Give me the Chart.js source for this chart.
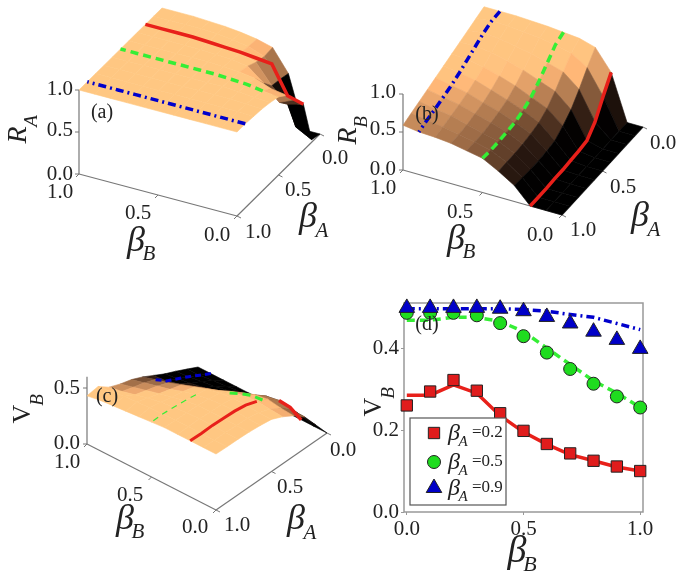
<!DOCTYPE html>
<html>
<head>
<meta charset="utf-8">
<script src="https://cdn.jsdelivr.net/npm/chart.js@4/dist/chart.umd.js"></script>
<style>
html, body { margin: 0; padding: 0; background: #fff; overflow: hidden; }
canvas { position: absolute; filter: blur(0.65px); }
#surfaces { left: 0; top: 0; }
#lines { left: 360px; top: 285px; }
</style>
</head>
<body>
<canvas id="surfaces" width="685" height="580"></canvas>
<canvas id="lines" width="325" height="295"></canvas>
<script>
// Surface heights, one row per beta_A (0.0 to 1.0), one column per beta_B (0.0 to 1.0)
const surfaceRA = [
    [0, 0, .62, .88, .93, .96, .98, .99, 1, 1, 1],
    [.03, .13, .65, .87, .94, .97, .99, 1, 1, 1, 1],
    [.55, .5, .67, .9, .96, .98, .99, 1, 1, 1, 1],
    [.7, .62, .8, .95, .98, .99, 1, 1, 1, 1, 1],
    [.85, .88, .95, .98, .99, 1, 1, 1, 1, 1, 1],
    [.93, .95, .98, .99, 1, 1, 1, 1, 1, 1, 1],
    [.96, .97, .99, 1, 1, 1, 1, 1, 1, 1, 1],
    [.98, .99, 1, 1, 1, 1, 1, 1, 1, 1, 1],
    [.99, 1, 1, 1, 1, 1, 1, 1, 1, 1, 1],
    [1, 1, 1, 1, 1, 1, 1, 1, 1, 1, 1],
    [1, 1, 1, 1, 1, 1, 1, 1, 1, 1, 1]
];
const redCurveRA = [.55, .6, .93, .95, .97, .98, .99, 1, 1, 1, 1];
const surfaceRB = [
    [0, 0, .6, .87, .93, .95, .97, .98, .99, .99, .99],
    [0, 0, .4, .72, .85, .9, .93, .95, .97, .98, .95],
    [0, 0, .18, .55, .72, .78, .84, .88, .92, .94, .91],
    [0, 0, .05, .4, .58, .66, .74, .8, .85, .88, .87],
    [0, 0, .03, .3, .47, .56, .65, .72, .78, .82, .83],
    [0, 0, .02, .22, .4, .5, .58, .65, .72, .76, .79],
    [0, 0, .01, .2, .37, .46, .54, .6, .67, .71, .75],
    [0, 0, .01, .19, .35, .45, .51, .57, .63, .67, .71],
    [0, 0, 0, .19, .34, .44, .49, .54, .6, .63, .67],
    [0, 0, 0, .2, .34, .44, .49, .53, .57, .6, .63],
    [0, 0, 0, .21, .34, .45, .49, .53, .55, .56, .59]
];
const surfaceVB = [
    [0, 0, 0, 0, 0, 0, 0, 0, 0, 0, 0],
    [.14, .15, .18, .17, .14, .11, .09, .075, .065, .055, .05],
    [.28, .285, .31, .29, .235, .195, .165, .14, .125, .11, .1],
    [.36, .37, .39, .37, .33, .27, .23, .2, .18, .16, .145],
    [.42, .43, .44, .43, .41, .36, .32, .28, .24, .21, .2],
    [.465, .465, .475, .475, .465, .44, .4, .36, .32, .29, .255],
    [.48, .485, .49, .49, .48, .46, .43, .39, .36, .33, .3],
    [.49, .49, .495, .495, .49, .475, .45, .42, .39, .36, .33],
    [.495, .495, .5, .5, .495, .485, .47, .45, .42, .39, .37],
    [.496, .496, .497, .497, .496, .494, .49, .482, .475, .46, .445],
    [.5, .5, .5, .5, .5, .49, .48, .47, .46, .45, .43]
];

// Panel (d)
const betaB = [0, .1, .2, .3, .4, .5, .6, .7, .8, .9, 1];
const squaresA2 = [.26, .294, .322, .296, .241, .198, .166, .143, .125, .111, .1];
const circlesA5 = [.486, .486, .486, .48, .461, .429, .389, .349, .313, .282, .255];
const trianglesA9 = [.498, .498, .498, .498, .496, .49, .476, .46, .44, .42, .398];
const lineA2 = [.285, .285, .31, .29, .235, .195, .165, .14, .125, .11, .1];
const lineA5 = [.468, .468, .475, .475, .465, .44, .4, .36, .32, .29, .255];
const lineA9 = [.496, .496, .496, .496, .496, .494, .49, .482, .475, .46, .445];
const xTicksD = [0, .5, 1];
const yTicksD = [0, .2, .4];
const legendLabels = ['=0.2', '=0.5', '=0.9'];

const RED = '#e8201a', GREEN = '#35ee35', BLUE = '#0000cc';
const DASHED = [8, 5], DASHDOT = [8, 4, 2, 4];
const SERIF = '"Liberation Serif"';

// Where each 3D box lands on the page
const panels = [
    {
        grid: surfaceRA, zMax: 1, zTicks: [0, .5, 1], lo: .45, hi: .95, rise: 0,
        front: [237, 216], left: [79, 174], right: [320, 134], zPx: 84,
        lines: [
            { along: 'B', index: 2, color: RED, width: 3.5, dash: [], values: redCurveRA },
            { along: 'B', index: 5, color: GREEN, width: 3.5, dash: DASHED, from: 1 },
            { along: 'B', index: 9, color: BLUE, width: 3.5, dash: DASHDOT }
        ]
    },
    {
        grid: surfaceRB, zMax: 1, zTicks: [0, .5, 1], lo: .2, hi: .74, rise: .08,
        front: [562, 215], left: [403, 170], right: [643, 127], zPx: 76,
        lines: [
            { along: 'A', index: 2, color: RED, width: 3.5, dash: [] },
            { along: 'A', index: 5, color: GREEN, width: 3.5, dash: DASHED },
            { along: 'A', index: 9, color: BLUE, width: 3.5, dash: DASHDOT }
        ]
    },
    {
        grid: surfaceVB, zMax: .6, zTicks: [0, .5], lo: .2, hi: .42, rise: 0,
        front: [216, 510], left: [87, 444], right: [327, 433], zPx: 112,
        lines: [
            { along: 'A', index: 2, color: RED, width: 3, dash: [], from: 4, to: 10 },
            { along: 'A', index: 2, color: RED, width: 3.5, dash: [], from: 0, to: 2 },
            { along: 'A', index: 5, color: GREEN, width: 1.2, dash: [6, 5], from: 6, to: 10 },
            { along: 'A', index: 5, color: GREEN, width: 3, dash: DASHED, from: 0, to: 3 },
            { along: 'A', index: 9, color: BLUE, width: 3, dash: [6, 4], from: 0, to: 5 }
        ]
    }
];

// beta_A = 1, beta_B = 0 is the corner nearest the viewer
function project(p, a, b, z) {
    const s = 1 - a, t = b;
    return {
        x: p.front[0] + s * (p.right[0] - p.front[0]) + t * (p.left[0] - p.front[0]),
        y: p.front[1] + s * (p.right[1] - p.front[1]) + t * (p.left[1] - p.front[1]) - z * p.zPx
    };
}

function copper(t) {
    t = Math.max(0, Math.min(1, t));
    const r = Math.min(255, Math.round(255 * 1.08 * t));
    return `rgb(${r},${Math.round(199 * Math.pow(t, 1.1))},${Math.round(130 * Math.pow(t, 1.1))})`;
}

function segment(points, color, width, dash) {
    return {
        data: points, showLine: true, borderColor: color, borderWidth: width,
        borderDash: dash || [], pointRadius: 0, fill: false, tension: 0, clip: false
    };
}

function panelDatasets(p) {
    const out = [];
    const axisColor = '#777';
    // box edges and tick marks
    out.push(segment([project(p, 1, 1, 0), project(p, 1, 1, p.zMax)], axisColor, 1.2));
    out.push(segment([project(p, 1, 1, 0), project(p, 1, 0, 0)], axisColor, 1.2));
    out.push(segment([project(p, 1, 0, 0), project(p, 0, 0, 0)], axisColor, 1.2));
    [0, .5, 1].forEach(v => {
        const m = project(p, 1, v, 0);
        out.push(segment([m, { x: m.x - 3, y: m.y + 3 }], axisColor, 1));
        const n = project(p, v, 0, 0);
        out.push(segment([n, { x: n.x + 4, y: n.y + 2 }], axisColor, 1));
    });
    p.zTicks.forEach(v => {
        const m = project(p, 1, 1, v);
        out.push(segment([m, { x: m.x - 4, y: m.y }], axisColor, 1));
    });
    // surface cells, back to front
    for (let i = 0; i < 10; i++) {
        for (let j = 9; j >= 0; j--) {
            const g = p.grid;
            const avg = (g[i][j] + g[i + 1][j] + g[i][j + 1] + g[i + 1][j + 1]) / 4;
            const base = Math.max(0, Math.min(1, (avg - p.lo) / (p.hi - p.lo)));
            const color = copper(base * (1 - p.rise) + p.rise * avg);
            const corners = [
                project(p, i / 10, j / 10, g[i][j]),
                project(p, (i + 1) / 10, j / 10, g[i + 1][j]),
                project(p, (i + 1) / 10, (j + 1) / 10, g[i + 1][j + 1]),
                project(p, i / 10, (j + 1) / 10, g[i][j + 1])
            ];
            corners.push(corners[0]);
            out.push({
                data: corners, showLine: true, borderColor: color, borderWidth: .6,
                backgroundColor: color, fill: 'shape', pointRadius: 0, tension: 0, clip: false
            });
        }
    }
    // constant beta curves on top of the surface
    p.lines.forEach(l => {
        const pts = [];
        for (let k = l.from || 0; k <= (l.to === undefined ? 10 : l.to); k++) {
            const z = l.values ? l.values[k] : (l.along === 'B' ? p.grid[l.index][k] : p.grid[k][l.index]);
            pts.push(l.along === 'B' ? project(p, l.index / 10, k / 10, z) : project(p, k / 10, l.index / 10, z));
        }
        const ds = segment(pts, l.color, l.width, l.dash);
        ds.borderCapStyle = 'butt';
        out.push(ds);
    });
    return out;
}

function text(ctx, str, x, y, font, align, color) {
    ctx.font = font;
    ctx.textAlign = align || 'center';
    ctx.textBaseline = 'middle';
    ctx.fillStyle = color || '#222';
    ctx.fillText(str, x, y);
}

// big symbol with subscript; rotated for the vertical axis names
function symbol(ctx, main, sub, x, y, sx, sy, size, subSize, rotate, upright) {
    ctx.save();
    ctx.translate(x, y);
    if (rotate) ctx.rotate(-Math.PI / 2);
    text(ctx, main, 0, 0, `${upright ? '' : 'italic '}${size}px ${SERIF}`);
    text(ctx, sub, sx, sy, `italic ${subSize}px ${SERIF}`);
    ctx.restore();
}

const tickFont = `21px ${SERIF}`;
const surfaceLabels = {
    id: 'surfaceLabels',
    afterDatasetsDraw(chart) {
        const ctx = chart.ctx;
        // (a)
        [['1.0', 89], ['0.5', 130], ['0.0', 174]].forEach(t => text(ctx, t[0], 73, t[1], tickFont, 'right'));
        [['1.0', 60, 192], ['0.5', 138, 213], ['0.0', 217, 235], ['1.0', 258, 232], ['0.5', 298, 190], ['0.0', 335, 158]]
            .forEach(t => text(ctx, t[0], t[1], t[2], tickFont));
        symbol(ctx, 'R', 'A', 19, 135, 14, 13, 28, 19, true);
        symbol(ctx, 'β', 'B', 136, 242, 13, 12, 36, 21);
        symbol(ctx, 'β', 'A', 308, 218, 14, 13, 36, 21);
        text(ctx, '(a)', 102, 113, `20px ${SERIF}`);
        // (b)
        [['1.0', 92], ['0.5', 129], ['0.0', 169]].forEach(t => text(ctx, t[0], 396, t[1], tickFont, 'right'));
        [['1.0', 383, 188], ['0.5', 460, 212], ['0.0', 540, 235], ['1.0', 583, 230], ['0.5', 623, 187], ['0.0', 663, 143]]
            .forEach(t => text(ctx, t[0], t[1], t[2], tickFont));
        symbol(ctx, 'R', 'B', 349, 136, 14, 13, 28, 19, true);
        symbol(ctx, 'β', 'B', 456, 240, 13, 12, 36, 21);
        symbol(ctx, 'β', 'A', 640, 217, 14, 13, 36, 21);
        text(ctx, '(b)', 427, 115, `20px ${SERIF}`);
        // (c)
        [['0.5', 388], ['0.0', 443]].forEach(t => text(ctx, t[0], 80, t[1], tickFont, 'right'));
        [['1.0', 67, 462], ['0.5', 130, 495], ['0.0', 195, 527], ['1.0', 237, 525], ['0.5', 290, 487], ['0.0', 343, 450]]
            .forEach(t => text(ctx, t[0], t[1], t[2], tickFont));
        symbol(ctx, 'V', 'B', 23, 414, 14, 15, 26, 19, true, true);
        symbol(ctx, 'β', 'B', 125, 520, 13, 12, 36, 21);
        symbol(ctx, 'β', 'A', 296, 520, 14, 13, 36, 21);
        text(ctx, '(c)', 107, 397, `20px ${SERIF}`);
    }
};

new Chart(document.getElementById('surfaces'), {
    type: 'scatter',
    data: {
        datasets: panels.flatMap(panelDatasets).map((d, i) => Object.assign(d, { order: -i }))
    },
    options: {
        responsive: false,
        animation: false,
        layout: { padding: 0 },
        plugins: { legend: { display: false }, tooltip: { enabled: false } },
        scales: {
            x: { type: 'linear', display: false, min: 0, max: 685 },
            y: { type: 'linear', display: false, min: 0, max: 580, reverse: true }
        }
    },
    plugins: [surfaceLabels]
});

const series = ys => ys.map((y, i) => ({ x: betaB[i], y }));
function curve(ys, color, dash, order) {
    return {
        data: series(ys), showLine: true, borderColor: color, borderWidth: 3.5, borderDash: dash,
        pointRadius: 0, tension: 0, order, borderCapStyle: 'butt', clip: false
    };
}
function markers(ys, color, style, radius, order) {
    return {
        data: series(ys), showLine: false, backgroundColor: color, borderColor: '#222', borderWidth: 1,
        pointStyle: style, pointRadius: radius, order, clip: false
    };
}

const legendStyles = [
    { style: 'rect', radius: 8, color: '#e01c1c' },
    { style: 'circle', radius: 6.5, color: '#1fdc1f' },
    { style: 'triangle', radius: 9, color: '#0000c8' }
];

const lineDecor = {
    id: 'lineDecor',
    beforeDatasetsDraw(chart) {
        const { ctx, chartArea: a } = chart;
        ctx.strokeStyle = '#999';
        ctx.lineWidth = 1.5;
        ctx.strokeRect(a.left, a.top, a.right - a.left, a.bottom - a.top);
    },
    afterDatasetsDraw(chart) {
        const ctx = chart.ctx;
        // legend box, coordinates local to this canvas
        ctx.fillStyle = '#fff';
        ctx.fillRect(50, 133, 96, 87);
        ctx.strokeStyle = '#555';
        ctx.lineWidth = 1.2;
        ctx.strokeRect(50, 133, 96, 87);
        legendStyles.forEach((s, i) => {
            const y = [148, 177, 203][i];
            ctx.fillStyle = s.color;
            ctx.strokeStyle = '#222';
            ctx.lineWidth = 1;
            Chart.helpers.drawPoint(ctx, { pointStyle: s.style, radius: s.radius, borderWidth: 1 }, 74, y);
            symbol(ctx, 'β', 'A', 94, y + 1, 9, 8, 24, 15);
            text(ctx, legendLabels[i], 112, y, `17px ${SERIF}`, 'left');
        });
        text(ctx, '(d)', 67, 40, `20px ${SERIF}`);
        symbol(ctx, 'V', 'B', 14, 122, 14, 15, 26, 19, true, true);
        symbol(ctx, 'β', 'B', 157, 267, 13, 13, 38, 22);
    }
};

new Chart(document.getElementById('lines'), {
    type: 'scatter',
    data: {
        datasets: [
            curve(lineA2, RED, [], 4),
            curve(lineA5, GREEN, DASHED, 5),
            curve(lineA9, BLUE, DASHDOT, 6),
            markers(squaresA2, '#e01c1c', 'rect', 8, 3),
            markers(circlesA5, '#1fdc1f', 'circle', 6.5, 2),
            markers(trianglesA9, '#0000c8', 'triangle', 9, 1)
        ]
    },
    options: {
        responsive: false,
        animation: false,
        layout: { padding: { top: 18, right: 42, left: 0, bottom: 0 } },
        plugins: { legend: { display: false }, tooltip: { enabled: false } },
        scales: {
            x: {
                type: 'linear', min: -0.012, max: 1.012,
                afterBuildTicks: axis => { axis.ticks = xTicksD.map(value => ({ value })); },
                afterFit: axis => { axis.height = 68; },
                border: { display: false },
                grid: { drawOnChartArea: false, color: '#999', tickLength: 3 },
                ticks: {
                    padding: 2, maxRotation: 0, autoSkip: false, color: '#222',
                    font: { family: SERIF, size: 21 }, callback: v => v.toFixed(1)
                }
            },
            y: {
                type: 'linear', min: 0, max: .51,
                afterBuildTicks: axis => { axis.ticks = yTicksD.map(value => ({ value })); },
                afterFit: axis => { axis.width = 44; },
                border: { display: false },
                grid: { drawOnChartArea: false, color: '#999', tickLength: 3 },
                ticks: {
                    padding: 2, autoSkip: false, color: '#222',
                    font: { family: SERIF, size: 21 }, callback: v => v.toFixed(1)
                }
            }
        }
    },
    plugins: [lineDecor]
});
</script>
</body>
</html>
